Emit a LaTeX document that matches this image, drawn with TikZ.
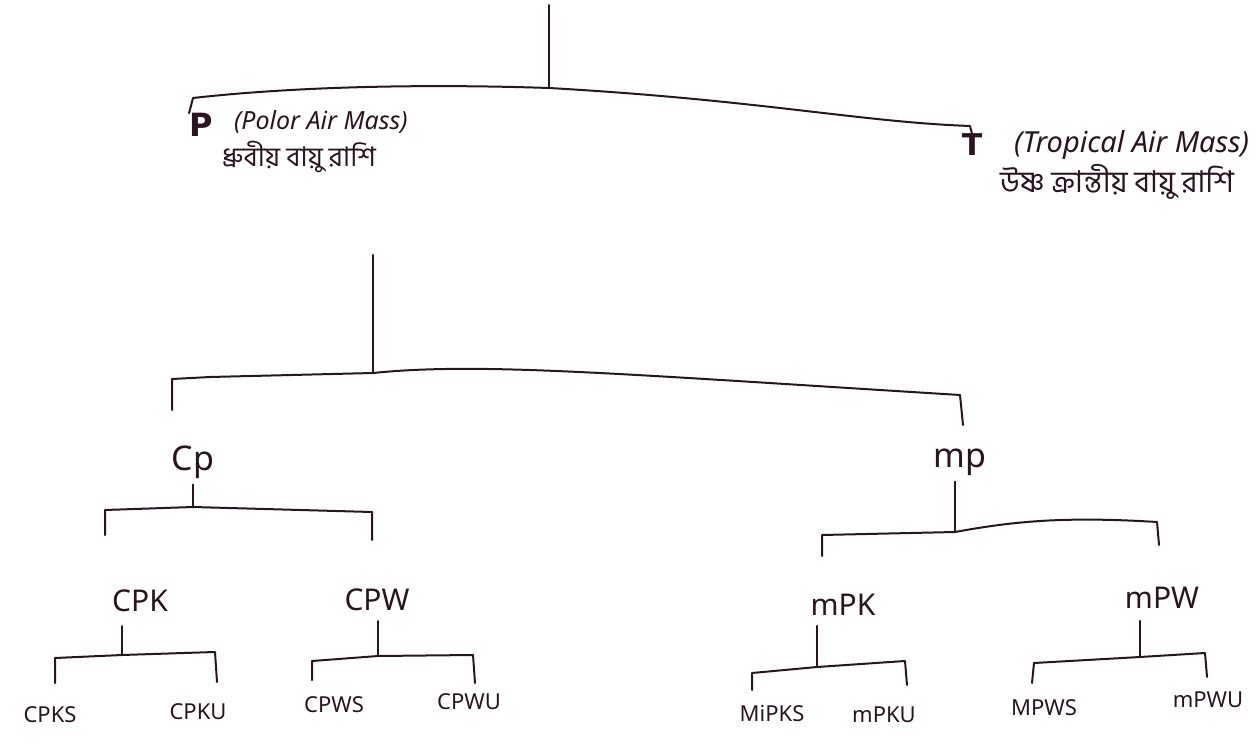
\documentclass[tikz,border=0pt]{standalone}
\usepackage{fontspec}
\setmainfont{Noto Sans}
\newfontfamily\heavy{DejaVu Sans}
\newfontfamily\bn[Script=Bengali]{Hind Siliguri}
\definecolor{ink}{HTML}{2B1420}
\begin{document}
\begin{tikzpicture}[x=1pt,y=-1pt,
  ink/.style={draw=ink,line width=2pt,line cap=round,line join=round},
  lbl/.style={inner sep=0pt,text=ink},
  big/.style={lbl,font=\fontsize{34}{34}\selectfont},
  mid/.style={lbl,font=\fontsize{30}{30}\selectfont},
  small/.style={lbl,font=\fontsize{22}{22}\selectfont},
  note/.style={lbl,anchor=west,font=\itshape\fontsize{25}{25}\selectfont},
  bng/.style={lbl,anchor=west,font=\bn\fontsize{27}{27}\selectfont}]
\useasboundingbox (0,0) rectangle (1257,743);
\clip (0,0) rectangle (1257,743);
\fill[white] (0,0) rectangle (1257,743);

% level 0
\coordinate (top) at (549,5);
\coordinate (j0) at (549,88);
\draw[ink] (top) -- (j0);
\node[lbl,font=\heavy\bfseries\fontsize{32}{32}\selectfont] (P) at (201,125) {P};
\node[note] (Pn) at (234,122) {(Polor Air Mass)};
\node[bng] (Pb) at (222,157) {ধ্রুবীয় বায়ু রাশি};
\node[lbl,font=\heavy\bfseries\fontsize{30}{30}\selectfont] (T) at (972,145) {T};
\node[note,font=\itshape\fontsize{29}{29}\selectfont] (Tn) at (1014,145) {(Tropical Air Mass)};
\node[bng,font=\bn\fontsize{30}{30}\selectfont] (Tb) at (1000,182) {উষ্ণ ক্রান্তীয় বায়ু রাশি};
\draw[ink] (P.north west) -- (193,98) .. controls (300,86) and (430,84) .. (j0)
  .. controls (760,100) and (860,122) .. (970,126) -- (T.north);

% level 1
\coordinate (s1) at (373,255);
\coordinate (j1) at (373,373);
\coordinate (cL) at (172,410);
\coordinate (mR) at (963,425);
\draw[ink] (s1) -- (j1);
\draw[ink] (cL) -- (172,379) -- (210,377) -- (j1)
  .. controls (480,362) and (620,374) .. (960,395) -- (mR);
\node[big] (Cp) at (193,462) {Cp};
\node[big] (mp) at (960,462) {mp};

% Cp fork
\coordinate (jc) at (193,507);
\coordinate (cpkL) at (105,535);
\coordinate (cpwR) at (372,540);
\draw[ink,shorten <=6pt] (jc |- Cp.south) -- (jc);
\draw[ink] (cpkL) -- (105,510) -- (jc) -- (372,512) -- (cpwR);

% mp fork
\coordinate (jm) at (955,532);
\coordinate (mpkL) at (822,556);
\coordinate (mpwR) at (1159,545);
\draw[ink,shorten <=6pt] (jm |- mp.south) -- (jm);
\draw[ink] (mpkL) -- (822,535) -- (jm) .. controls (1010,522) and (1060,516) .. (1157,522) -- (mpwR);

\node[mid] (CPK) at (140,601) {CPK};
\node[mid] (CPW) at (377,600) {CPW};
\node[mid] (mPK) at (843,605) {mPK};
\node[mid] (mPW) at (1162,598) {mPW};

% CPK fork
\coordinate (jk) at (122,655);
\coordinate (kL) at (55,683);
\coordinate (kR) at (217,682);
\draw[ink,shorten <=14pt] (jk |- CPK.south) -- (jk);
\draw[ink] (kL) -- (55,658) -- (jk) -- (215,652) -- (kR);

% CPW fork
\coordinate (jw) at (378,656);
\coordinate (wL) at (312,680);
\coordinate (wR) at (475,683);
\draw[ink,shorten <=10pt] (jw |- CPW.south) -- (jw);
\draw[ink] (wL) -- (312,661) -- (jw) -- (473,655) -- (wR);

% mPK fork
\coordinate (jmk) at (817,667);
\coordinate (mkL) at (752,690);
\coordinate (mkR) at (907,685);
\draw[ink,shorten <=10pt] (jmk |- mPK.south) -- (jmk);
\draw[ink] (mkL) -- (752,673) -- (jmk) -- (905,661) -- (mkR);

% mPW fork
\coordinate (jmw) at (1140,657);
\coordinate (mwL) at (1032,683);
\coordinate (mwR) at (1207,677);
\draw[ink,shorten <=12pt] (jmw |- mPW.south) -- (jmw);
\draw[ink] (mwL) -- (1034,663) -- (jmw) -- (1205,653) -- (mwR);

% leaves
\node[small] (CPKS) at (50,715) {CPKS};
\node[small] (CPKU) at (198,712) {CPKU};
\node[small] (CPWS) at (334,705) {CPWS};
\node[small] (CPWU) at (469,702) {CPWU};
\node[small] (mPKS) at (772,713) {MiPKS};
\node[small] (mPKU) at (884,715) {mPKU};
\node[small] (mPWS) at (1044,708) {MPWS};
\node[small] (mPWU) at (1208,700) {mPWU};
\end{tikzpicture}
\end{document}
